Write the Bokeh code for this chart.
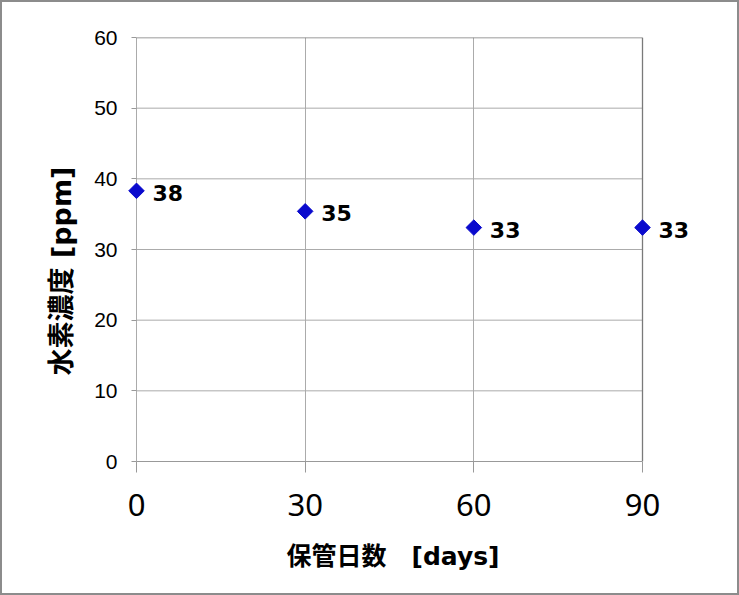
from bokeh.plotting import figure
from bokeh.models import Range1d, FixedTicker, Title, ColumnDataSource, LabelSet
from bokeh.core.properties import value
from bokeh.embed import file_html
from bokeh.resources import INLINE

days = [0, 30, 60, 90]
hydrogen_ppm = [38.3, 35.4, 33.1, 33.1]
point_labels = [f"{v:.0f}" for v in hydrogen_ppm]
x_ticks = [0, 30, 60, 90]
y_ticks = [0, 10, 20, 30, 40, 50, 60]

# layout constants (pixels)
PLOT_W = 506          # width of the 0..90 box
PAD_L = 9             # room so the marker at x=0 is not clipped
PAD_R = 54            # room for the label of the last point
k = (x_ticks[-1] - x_ticks[0]) / PLOT_W

src = ColumnDataSource(dict(x=days, y=hydrogen_ppm, lab=point_labels))

p = figure(width=739, height=595, output_backend="svg", toolbar_location=None,
           x_range=Range1d(x_ticks[0] - PAD_L * k, x_ticks[-1] + PAD_R * k),
           y_range=Range1d(y_ticks[0], y_ticks[-1]),
           min_border_left=125, min_border_right=739 - 125 - PLOT_W - PAD_L - PAD_R,
           min_border_top=35, min_border_bottom=136,
           background_fill_color="white", border_fill_color="white")
p.styles = {"border": "2px solid #8c8c8c"}

GRID = "#ababab"
FRAME = "#7a7a7a"
p.outline_line_color = None
p.xgrid.grid_line_color = GRID
p.xgrid.ticker = FixedTicker(ticks=x_ticks[:-1])
p.ygrid.visible = False

p.xaxis.ticker = FixedTicker(ticks=x_ticks)
p.yaxis.ticker = FixedTicker(ticks=y_ticks)
p.xaxis.bounds = (x_ticks[0], x_ticks[-1])
p.xaxis.minor_tick_line_color = None
p.yaxis.minor_tick_line_color = None
p.xaxis.axis_line_color = "#999999"
p.yaxis.axis_line_color = None
for ax in (p.xaxis, p.yaxis):
    ax.major_tick_line_color = "#999999"
    ax.major_label_text_color = "black"

p.xaxis.major_tick_in = 0
p.xaxis.major_tick_out = 11
# y ticks sit just left of x=0 (the frame starts PAD_L px further left)
p.yaxis.major_tick_in = PAD_L
p.yaxis.major_tick_out = -(PAD_L - 5)
p.xaxis.major_label_text_font = "Noto Sans"
p.xaxis.major_label_text_font_size = "31px"
p.xaxis.major_label_standoff = 21
p.yaxis.major_label_text_font = "Liberation Sans"
p.yaxis.major_label_text_font_size = "21px"
p.yaxis.major_label_standoff = 10

# horizontal grid lines limited to the 0..90 box
p.segment(x0=x_ticks[0], x1=x_ticks[-1], y0=y_ticks[1:-1], y1=y_ticks[1:-1],
          line_color=GRID, line_width=1)
# plot-area border: top and right
p.segment(x0=[x_ticks[0], x_ticks[-1]], x1=[x_ticks[-1], x_ticks[-1]],
          y0=[y_ticks[-1], y_ticks[0]], y1=[y_ticks[-1], y_ticks[-1]],
          line_color=FRAME, line_width=1.3)

p.scatter("x", "y", source=src, marker="square", angle=0.7853981634, size=11,
          fill_color="#0a0acd", line_color="#0a0acd")
labels = LabelSet(x="x", y="y", text="lab", source=src, x_offset=16, y_offset=-2,
                  text_font=value("DejaVu Sans"), text_font_style="bold", text_font_size="22px",
                  text_baseline="middle", text_align="left", text_color="black")
p.add_layout(labels)

TITLE_FONT = "DejaVu Sans, Noto Sans CJK JP"
p.add_layout(Title(text="保管日数\u3000[days]", align="left", offset=159, standoff=43,
                   text_color="black",
                   text_font=TITLE_FONT, text_font_size="25px", text_font_style="bold"), "below")
p.add_layout(Title(text="水素濃度 [ppm]", align="left", offset=86, standoff=29,
                   text_color="black",
                   text_font=TITLE_FONT, text_font_size="27px", text_font_style="bold"), "left")

open("out.html", "w").write(file_html(p, INLINE))
